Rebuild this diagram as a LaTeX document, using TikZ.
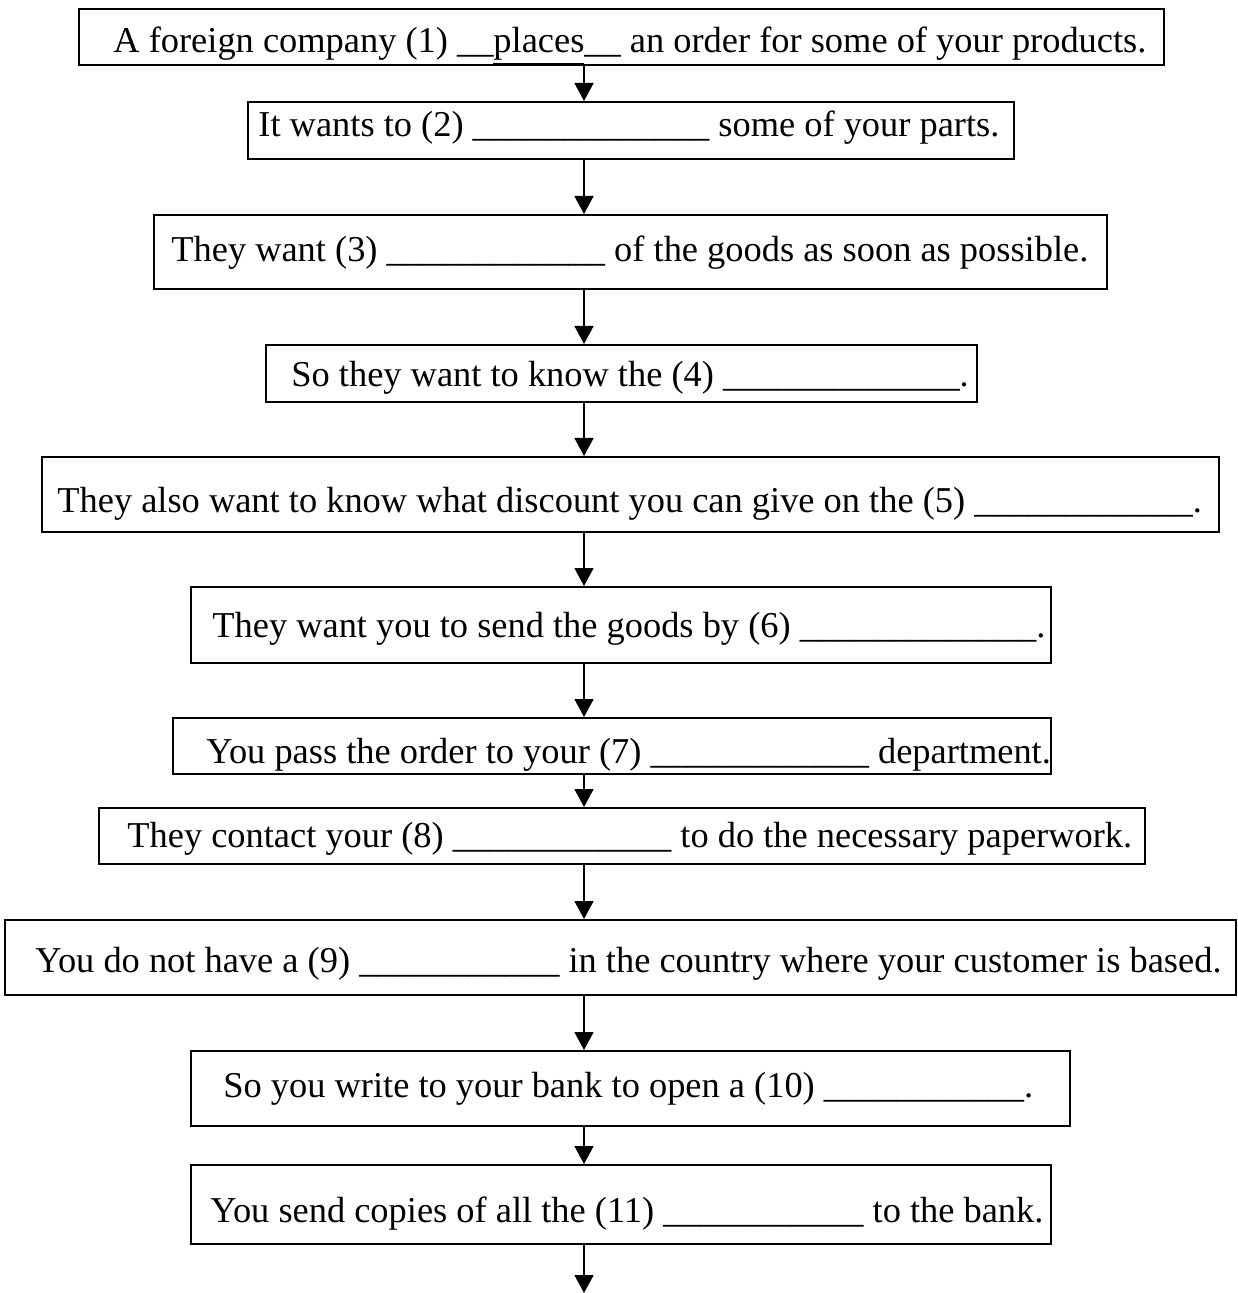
\documentclass[tikz,border=0pt]{standalone}
\usepackage{fontspec}
\setmainfont{Liberation Serif}
\usetikzlibrary{arrows.meta}
\tikzset{
  box/.style={draw, line width=1pt, rectangle, inner sep=0pt},
  lbl/.style={anchor=base west, inner sep=0pt, font=\fontsize{18.2}{22}\selectfont},
  arr/.style={line width=0.8pt, -{Triangle[width=9.5pt,length=9pt]}}
}
\begin{document}
\begin{tikzpicture}[x=0.5pt,y=-0.5pt]
\useasboundingbox (0,0) rectangle (1237,1293);
% boxes
\node[box, minimum width=542.5pt, minimum height=28pt]   (b1)  at (621.5,37) {};
\node[box, minimum width=383.25pt, minimum height=28.5pt] (b2)  at (630.75,130.5) {};
\node[box, minimum width=476.5pt, minimum height=37pt]   (b3)  at (630.5,252) {};
\node[box, minimum width=355.5pt, minimum height=28.5pt] (b4)  at (621.5,373.5) {};
\node[box, minimum width=588.5pt, minimum height=37.5pt] (b5)  at (630.5,494.5) {};
\node[box, minimum width=430pt, minimum height=38pt]     (b6)  at (621,625) {};
\node[box, minimum width=439pt, minimum height=28pt]     (b7)  at (612,746) {};
\node[box, minimum width=523pt, minimum height=28pt]     (b8)  at (622,836) {};
\node[box, minimum width=615.5pt, minimum height=37.5pt] (b9)  at (620.5,957.5) {};
\node[box, minimum width=439.5pt, minimum height=37.5pt] (b10) at (630.5,1088.5) {};
\node[box, minimum width=430pt, minimum height=39.5pt]   (b11) at (621,1204.5) {};
% texts
\node[lbl] (t1)  at (113,53)   {A foreign company (1) \_\_\underline{places}\_\_ an order for some of your products.};
\node[lbl] (t2)  at (258,137)  {It wants to (2) \_\_\_\_\_\_\_\_\_\_\_\_\_ some of your parts.};
\node[lbl] (t3)  at (171,262)  {They want (3) \_\_\_\_\_\_\_\_\_\_\_\_ of the goods as soon as possible.};
\node[lbl] (t4)  at (291,387)  {So they want to know the (4) \_\_\_\_\_\_\_\_\_\_\_\_\_.};
\node[lbl] (t5)  at (57,512)   {They also want to know what discount you can give on the (5) \_\_\_\_\_\_\_\_\_\_\_\_.};
\node[lbl] (t6)  at (212,637)  {They want you to send the goods by (6) \_\_\_\_\_\_\_\_\_\_\_\_\_.};
\node[lbl] (t7)  at (206,763)  {You pass the order to your (7) \_\_\_\_\_\_\_\_\_\_\_\_ department.};
\node[lbl] (t8)  at (127,847)  {They contact your (8) \_\_\_\_\_\_\_\_\_\_\_\_ to do the necessary paperwork.};
\node[lbl] (t9)  at (35,972)   {You do not have a (9) \_\_\_\_\_\_\_\_\_\_\_ in the country where your customer is based.};
\node[lbl] (t10) at (223,1097) {So you write to your bank to open a (10) \_\_\_\_\_\_\_\_\_\_\_.};
\node[lbl] (t11) at (210,1222) {You send copies of all the (11) \_\_\_\_\_\_\_\_\_\_\_ to the bank.};
% connectors
\coordinate (ax) at (584,0);
\coordinate (end) at (584,1293);
\draw[arr] (b1.south -| ax) -- (b2.north -| ax);
\draw[arr] (b2.south -| ax) -- (b3.north -| ax);
\draw[arr] (b3.south -| ax) -- (b4.north -| ax);
\draw[arr] (b4.south -| ax) -- (b5.north -| ax);
\draw[arr] (b5.south -| ax) -- (b6.north -| ax);
\draw[arr] (b6.south -| ax) -- (b7.north -| ax);
\draw[arr] (b7.south -| ax) -- (b8.north -| ax);
\draw[arr] (b8.south -| ax) -- (b9.north -| ax);
\draw[arr] (b9.south -| ax) -- (b10.north -| ax);
\draw[arr] (b10.south -| ax) -- (b11.north -| ax);
\draw[arr] (b11.south -| ax) -- (end);
\end{tikzpicture}
\end{document}
